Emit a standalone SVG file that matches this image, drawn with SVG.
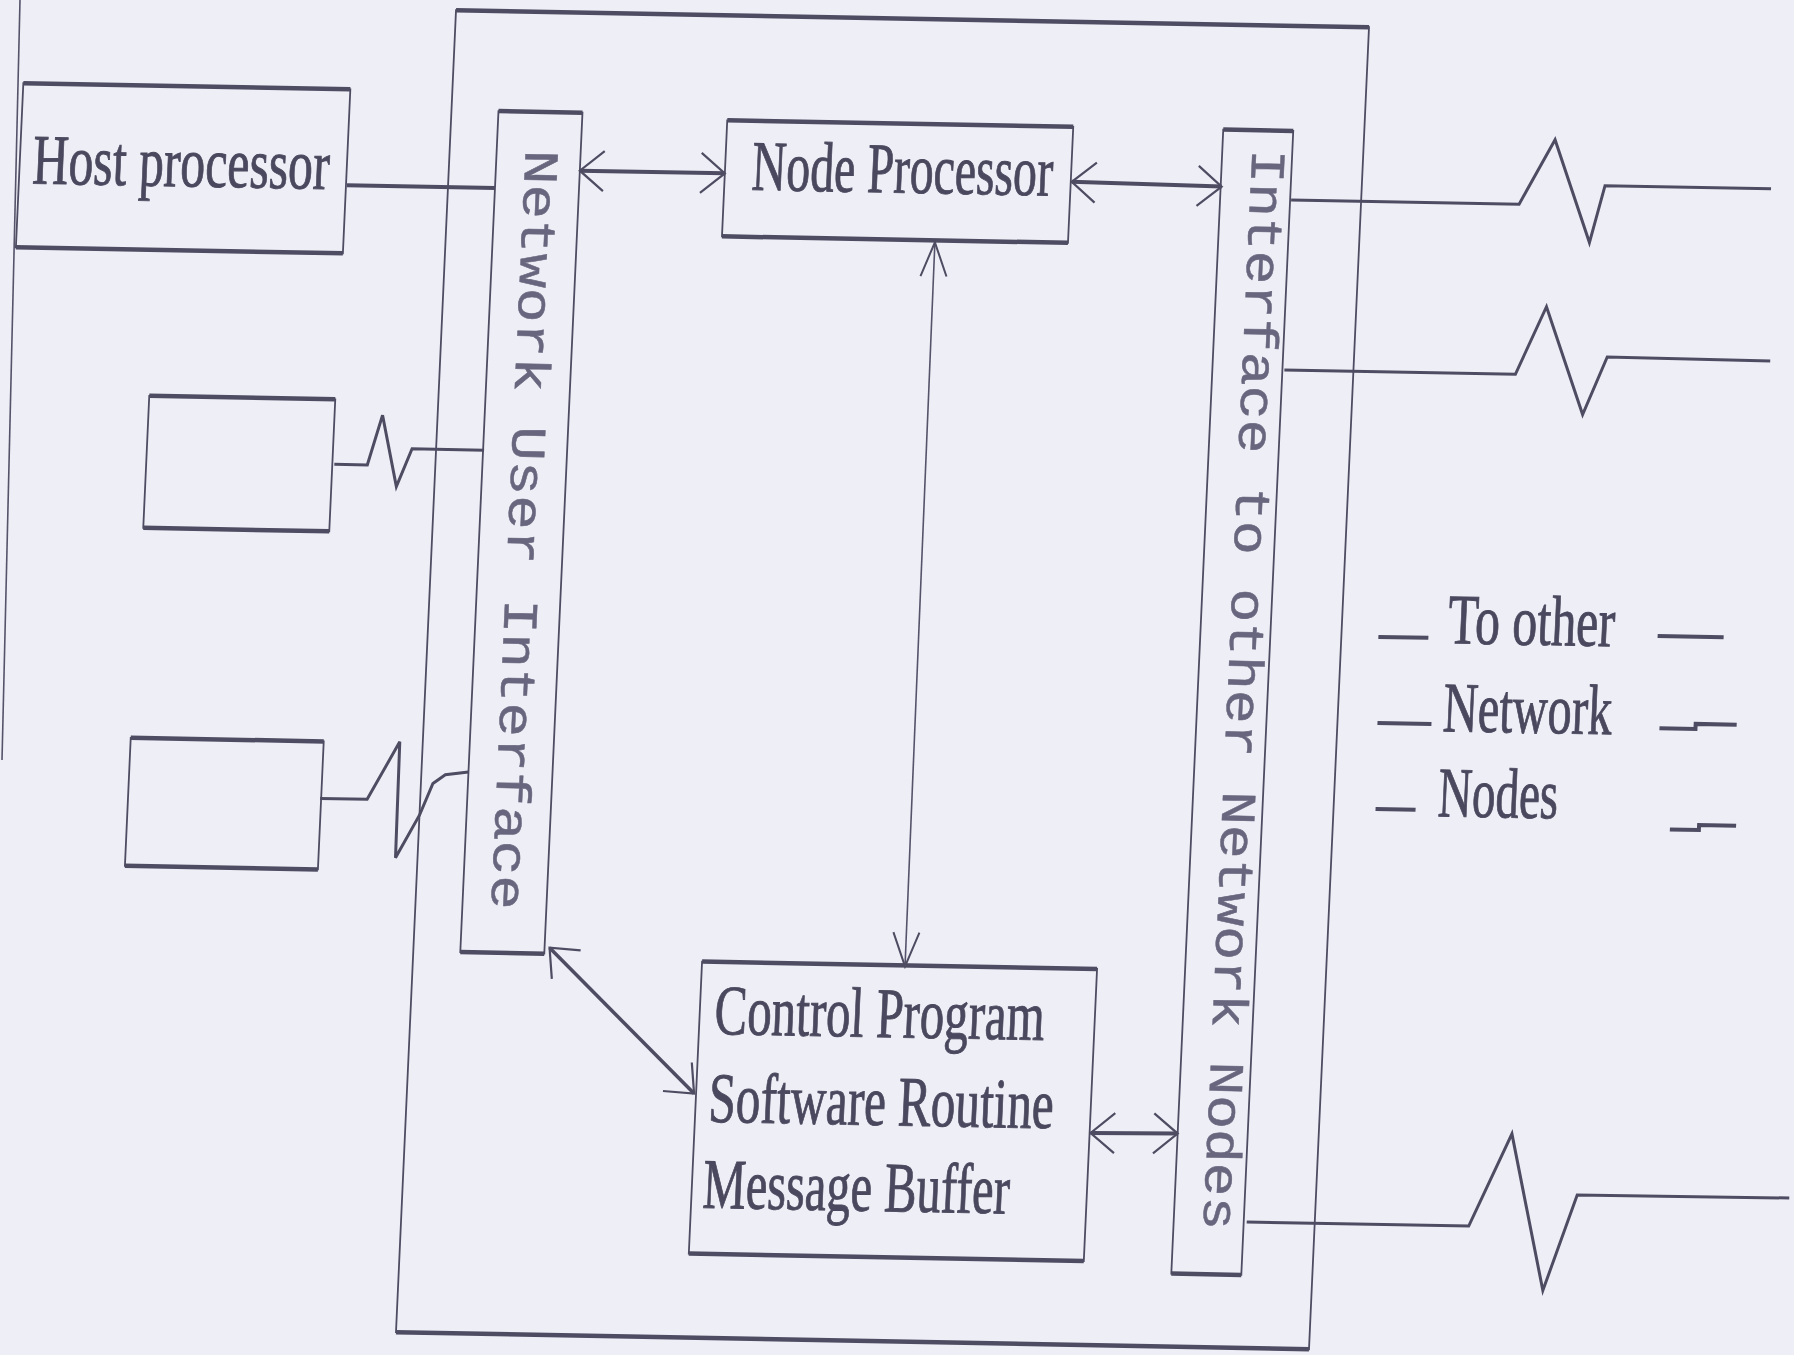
<svg xmlns="http://www.w3.org/2000/svg" width="1794" height="1355" viewBox="0 0 1794 1355">
<style>
.bg{fill:#eeeef6}
.box{fill:none;stroke:#4e4c62;stroke-width:1.8}
.edge{fill:none;stroke:#4e4c62;stroke-width:4.5}
.ln{fill:none;stroke:#4e4c62;stroke-width:4}
.zz{fill:none;stroke:#4e4c62;stroke-width:3;stroke-linejoin:miter}
.thin{fill:none;stroke:#55536a;stroke-width:1.6}
.arr{fill:none;stroke:#4e4c62;stroke-width:3.5}
.lbl{font-family:"Liberation Serif",serif;font-size:71px;fill:#4a485e;stroke:#4a485e;stroke-width:0.9}
.vlbl{font-family:"Liberation Mono",monospace;font-size:49px;fill:#68667e;stroke:#68667e;stroke-width:0.5}
</style>
<defs>
<marker id="ah" markerUnits="userSpaceOnUse" viewBox="-30 -25 34 50" refX="0" refY="0" markerWidth="34" markerHeight="50" orient="auto-start-reverse" overflow="visible">
<path d="M-24,-20 L0,0 L-24,20" fill="none" stroke="#4e4c62" stroke-width="2.2"/>
</marker>
<marker id="ahn" markerUnits="userSpaceOnUse" viewBox="-40 -20 44 40" refX="0" refY="0" markerWidth="44" markerHeight="40" orient="auto-start-reverse" overflow="visible">
<path d="M-34,-13 L0,0 L-34,13" fill="none" stroke="#4e4c62" stroke-width="2"/>
</marker>
</defs>
<rect class="bg" x="0" y="0" width="1794" height="1355"/>
<line class="thin" x1="20" y1="0" x2="2" y2="760"/>
<g transform="translate(897,680) matrix(1,0.0186,-0.0454,1,0,0) translate(-897,-680)">
<g id="node-container">
<rect class="box" x="426" y="19" width="913" height="1322"/>
<path class="edge" d="M426,19H1339M426,1341H1339"/>
</g>
<g id="node-host">
<rect class="box" x="-3" y="100" width="327" height="164"/>
<path class="edge" d="M-3,100H324M-3,264H324"/>
<text class="lbl" x="10" y="200" textLength="297" lengthAdjust="spacingAndGlyphs">Host processor</text>
</g>
<g id="node-box2">
<rect class="box" x="137" y="410" width="186" height="132"/>
<path class="edge" d="M137,410H323M137,542H323"/>
</g>
<g id="node-box3">
<rect class="box" x="134" y="752" width="193" height="128"/>
<path class="edge" d="M134,752H327M134,880H327"/>
</g>
<g id="node-nui">
<rect class="box" x="473" y="119" width="84" height="841"/>
<path class="edge" d="M473,119H557M473,960H557"/>
<text class="vlbl" transform="translate(502,157) rotate(90)" textLength="760" lengthAdjust="spacingAndGlyphs">Network User Interface</text>
</g>
<g id="node-processor">
<rect class="box" x="702" y="124" width="346" height="116"/>
<path class="edge" d="M702,124H1048M702,240H1048"/>
<text class="lbl" x="729" y="193" textLength="301" lengthAdjust="spacingAndGlyphs">Node Processor</text>
</g>
<g id="node-control">
<rect class="box" x="715" y="965" width="395" height="292"/>
<path class="edge" d="M715,965H1110M715,1257H1110"/>
<text class="lbl" x="730" y="1037" textLength="330" lengthAdjust="spacingAndGlyphs">Control Program</text>
<text class="lbl" x="728" y="1125" textLength="345" lengthAdjust="spacingAndGlyphs">Software Routine</text>
<text class="lbl" x="726" y="1211" textLength="307" lengthAdjust="spacingAndGlyphs">Message Buffer</text>
</g>
<g id="node-ion">
<rect class="box" x="1198" y="124" width="70" height="1144"/>
<path class="edge" d="M1198,124H1268M1198,1268H1268"/>
<text class="vlbl" transform="translate(1228,143) rotate(90)" textLength="1081" lengthAdjust="spacingAndGlyphs">Interface to other Network Nodes</text>
</g>
<g id="legend">
<text class="lbl" x="1445" y="633" textLength="167" lengthAdjust="spacingAndGlyphs">To other</text>
<text class="lbl" x="1444" y="721" textLength="169" lengthAdjust="spacingAndGlyphs">Network</text>
<text class="lbl" x="1443" y="806" textLength="120" lengthAdjust="spacingAndGlyphs">Nodes</text>
<path class="ln" d="M1376,628H1426M1655,622H1721M1379,714H1433M1661,714H1697V709H1738M1381,800H1421M1676,815H1705V810H1742"/>
</g>
<g id="connectors">
<path class="ln" d="M325,196H473"/>
<path class="zz" d="M325,475L358,475L371,425L388,496L402,458L474,458"/>
<path class="zz" d="M326,809L373,809L403,751L404,867L426,824L438,792L450,783L473,780"/>
<path class="ln" d="M557,177L702,177" marker-start="url(#ah)" marker-end="url(#ah)"/>
<path class="ln" d="M1049,179L1199,181" marker-start="url(#ah)" marker-end="url(#ah)"/>
<path class="thin" d="M915,242L918,966" marker-start="url(#ahn)" marker-end="url(#ahn)"/>
<path class="arr" d="M562,954L713,1097" marker-start="url(#ah)" marker-end="url(#ah)"/>
<path class="ln" d="M1111,1129L1198,1128" marker-start="url(#ah)" marker-end="url(#ah)"/>
<path class="zz" d="M1269,193L1497,193L1530,128L1569,230L1582,173L1748,173"/>
<path class="zz" d="M1270,363L1501,363L1529,295L1570,402L1592,344L1755,345"/>
<path class="zz" d="M1271,1215L1493,1215L1532,1122L1570,1278L1600,1182L1812,1181"/>
</g>
</g>
</svg>
